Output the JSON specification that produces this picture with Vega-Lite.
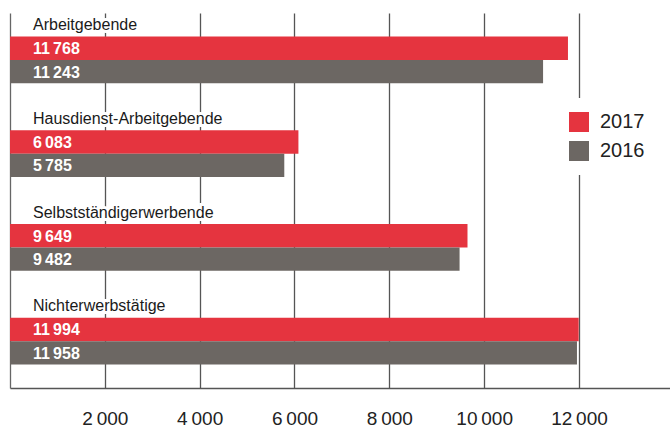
{
  "$schema": "https://vega.github.io/schema/vega-lite/v6.json",
  "autosize": "none",
  "width": 660,
  "height": 375,
  "padding": {"left": 10, "top": 13, "right": 0, "bottom": 40},
  "background": "white",
  "config": {
    "view": {"stroke": null},
    "font": "Liberation Sans",
    "locale": {"number": {"decimal": ",", "thousands": "\u2009", "grouping": [3], "currency": ["", " CHF"]}}
  },
  "data": {
    "values": [
      {"category": "Arbeitgebende", "year": "2017", "value": 11768},
      {"category": "Arbeitgebende", "year": "2016", "value": 11243},
      {"category": "Hausdienst-Arbeitgebende", "year": "2017", "value": 6083},
      {"category": "Hausdienst-Arbeitgebende", "year": "2016", "value": 5785},
      {"category": "Selbstständigerwerbende", "year": "2017", "value": 9649},
      {"category": "Selbstständigerwerbende", "year": "2016", "value": 9482},
      {"category": "Nichterwerbstätige", "year": "2017", "value": 11994},
      {"category": "Nichterwerbstätige", "year": "2016", "value": 11958}
    ]
  },
  "encoding": {
    "y": {
      "field": "category",
      "type": "nominal",
      "sort": null,
      "scale": {"paddingInner": 0, "paddingOuter": 0},
      "axis": {"title": null, "labels": false, "ticks": false, "domain": true, "domainColor": "#666", "domainWidth": 1.3, "grid": false}
    }
  },
  "layer": [
    {
      "mark": {"type": "bar", "cornerRadius": 0},
      "encoding": {
        "x": {
          "field": "value",
          "type": "quantitative",
          "scale": {"domain": [0, 13920], "nice": false, "zero": true},
          "axis": {
            "title": null,
            "values": [2000, 4000, 6000, 8000, 10000, 12000],
            "format": ",d",
            "grid": true,
            "gridColor": "#555",
            "gridWidth": 1.3,
            "ticks": false,
            "domain": true,
            "domainColor": "#555",
            "domainWidth": 1.3,
            "labelFontSize": 19,
            "labelColor": "#222",
            "labelPadding": 21,
            "labelFont": "Liberation Sans"
          }
        },
        "yOffset": {
          "field": "year",
          "type": "nominal",
          "scale": {"domain": ["label", "2017", "2016", "gap"], "paddingInner": 0, "paddingOuter": 0}
        },
        "color": {
          "field": "year",
          "type": "nominal",
          "scale": {"domain": ["2017", "2016"], "range": ["#E5343F", "#6C6763"]},
          "legend": {
            "title": null,
            "orient": "none",
            "legendX": 545,
            "legendY": 85,
            "fillColor": "white",
            "padding": 14,
            "symbolType": "square",
            "symbolSize": 400,
            "symbolStrokeWidth": 0,
            "symbolOpacity": 1,
            "labelFontSize": 20,
            "labelColor": "#222",
            "labelOffset": 11,
            "rowPadding": 9
          }
        }
      }
    },
    {
      "mark": {"type": "text", "align": "left", "baseline": "middle", "dx": 23, "dy": 1, "fontSize": 16, "fontWeight": "bold", "color": "white"},
      "encoding": {
        "x": {"datum": 0, "type": "quantitative"},
        "yOffset": {"field": "year", "type": "nominal"},
        "text": {"field": "value", "type": "quantitative", "format": ",d"}
      }
    },
    {
      "transform": [{"filter": {"field": "year", "equal": "2017"}}],
      "mark": {"type": "text", "align": "left", "baseline": "middle", "dx": 23, "dy": 0.5, "fontSize": 16, "color": "white", "stroke": "white", "strokeWidth": 6},
      "encoding": {
        "x": {"datum": 0, "type": "quantitative"},
        "yOffset": {"datum": "label"},
        "text": {"field": "category", "type": "nominal"}
      }
    },
    {
      "transform": [{"filter": {"field": "year", "equal": "2017"}}],
      "mark": {"type": "text", "align": "left", "baseline": "middle", "dx": 23, "dy": 0.5, "fontSize": 16, "color": "#1a1a1a"},
      "encoding": {
        "x": {"datum": 0, "type": "quantitative"},
        "yOffset": {"datum": "label"},
        "text": {"field": "category", "type": "nominal"}
      }
    }
  ]
}
